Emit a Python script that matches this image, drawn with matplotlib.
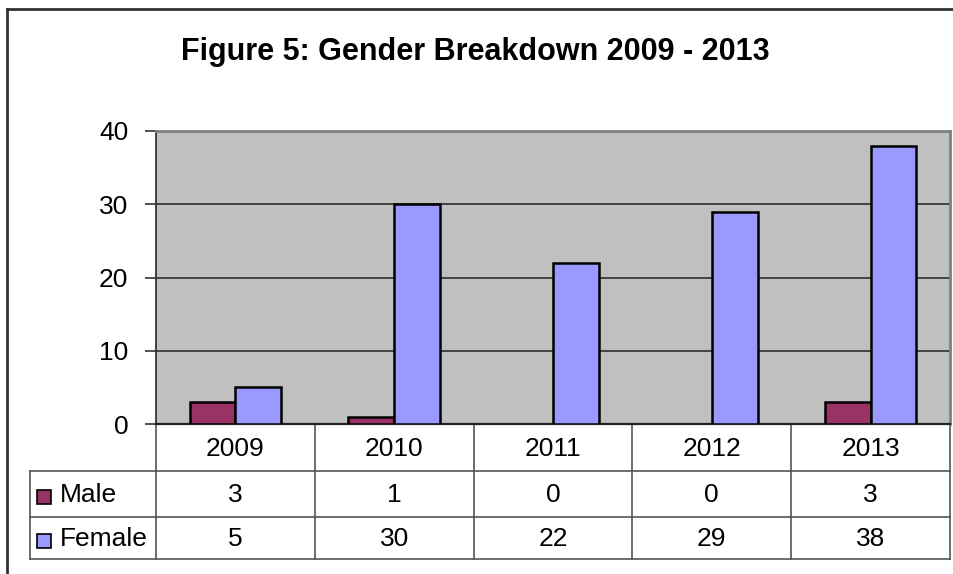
import matplotlib
matplotlib.use("Agg")
import matplotlib.pyplot as plt
from matplotlib.patches import Rectangle
from matplotlib.lines import Line2D
import numpy as np

plt.rcParams["font.family"] = ["Liberation Sans", "DejaVu Sans"]

# ---------------------------------------------------------------------------
# Data
# ---------------------------------------------------------------------------
years = ["2009", "2010", "2011", "2012", "2013"]
male = [3, 1, 0, 0, 3]
female = [5, 30, 22, 29, 38]
series_names = ["Male", "Female"]
yticks = [0, 10, 20, 30, 40]

COLOR_MALE = "#993366"
COLOR_FEMALE = "#9999FF"
COLOR_PLOT_BG = "#C0C0C0"
COLOR_GRID = "#3a3a3a"
COLOR_TABLE = "#555555"
FS = 19

W, H = 954, 574
fig = plt.figure(figsize=(W / 100, H / 100), dpi=100)
fig.patch.set_facecolor("white")

# overlay axes in pixel coordinates (frame, table)
ov = fig.add_axes([0, 0, 1, 1], zorder=0)
ov.set_xlim(0, W)
ov.set_ylim(H, 0)
ov.axis("off")

# plot area in pixels
PL, PR, PT, PB = 156, 950, 131, 424
ax = fig.add_axes([PL / W, 1 - PB / H, (PR - PL) / W, (PB - PT) / H], zorder=2)
ax.set_facecolor(COLOR_PLOT_BG)

n = len(years)
x = np.arange(n)
bw = 0.288
for vals, off, colr in [(male, -bw / 2, COLOR_MALE), (female, bw / 2, COLOR_FEMALE)]:
    lws = [1.8 if v > 0 else 0 for v in vals]
    ax.bar(x + off, vals, bw, color=colr, edgecolor="black", linewidth=lws, zorder=3)

ax.set_xlim(-0.5, n - 0.5)
ax.set_ylim(0, 40)
ax.set_yticks(yticks)
ax.set_yticklabels([str(t) for t in yticks], fontsize=FS)
ax.yaxis.grid(True, color=COLOR_GRID, linewidth=1.3, zorder=1)
ax.set_axisbelow(True)
ax.tick_params(axis="y", direction="out", length=8, width=1.2, color="#333333", pad=12)
ax.set_xticks(np.arange(n + 1) - 0.5)
ax.set_xticklabels([])
ax.tick_params(axis="x", direction="out", length=0)
for side in ("top", "right"):
    ax.spines[side].set_color("#808080")
    ax.spines[side].set_linewidth(2)
ax.spines["left"].set_color("#333333")
ax.spines["left"].set_linewidth(1.3)
ax.spines["bottom"].set_color("#222222")
ax.spines["bottom"].set_linewidth(1.6)

# title
fig.text(475 / W, 1 - 52 / H, "Figure 5: Gender Breakdown 2009 - 2013",
         ha="center", va="center", fontsize=22, fontweight="bold")

# outer chart frame (cropped on right and bottom)
ov.add_line(Line2D([7, 7], [9, H + 5], color="#333333", lw=2))
ov.add_line(Line2D([7, W + 5], [9, 9], color="#333333", lw=2))

# data table
TL = 30
row_y = [PB, 471, 517, 559]
colw = (PR - PL) / n
col_x = [PL + i * colw for i in range(n + 1)]

ov.add_line(Line2D([PL, PR], [row_y[0], row_y[0]], color=COLOR_TABLE, lw=1.2))
for yy in row_y[1:]:
    ov.add_line(Line2D([TL, PR], [yy, yy], color=COLOR_TABLE, lw=1.2))
ov.add_line(Line2D([TL, TL], [row_y[1], row_y[3]], color=COLOR_TABLE, lw=1.2))
for cx in col_x:
    ov.add_line(Line2D([cx, cx], [row_y[0], row_y[3]], color=COLOR_TABLE, lw=1.2))

# cell text
for i, yr in enumerate(years):
    cx = (col_x[i] + col_x[i + 1]) / 2
    ov.text(cx, (row_y[0] + row_y[1]) / 2 + 1, yr, ha="center", va="center", fontsize=FS)
    ov.text(cx, (row_y[1] + row_y[2]) / 2 + 1, str(male[i]), ha="center", va="center", fontsize=FS)
    ov.text(cx, (row_y[2] + row_y[3]) / 2 + 1, str(female[i]), ha="center", va="center", fontsize=FS)

# row headers with legend keys
for r, (name, colr) in enumerate(zip(series_names, [COLOR_MALE, COLOR_FEMALE])):
    yc = (row_y[r + 1] + row_y[r + 2]) / 2
    ov.add_patch(Rectangle((37, yc - 4), 14, 14, facecolor=colr, edgecolor="black", lw=1.2))
    ov.text(60, yc + 1, name, ha="left", va="center", fontsize=FS)

fig.savefig("out.png", dpi=100)
